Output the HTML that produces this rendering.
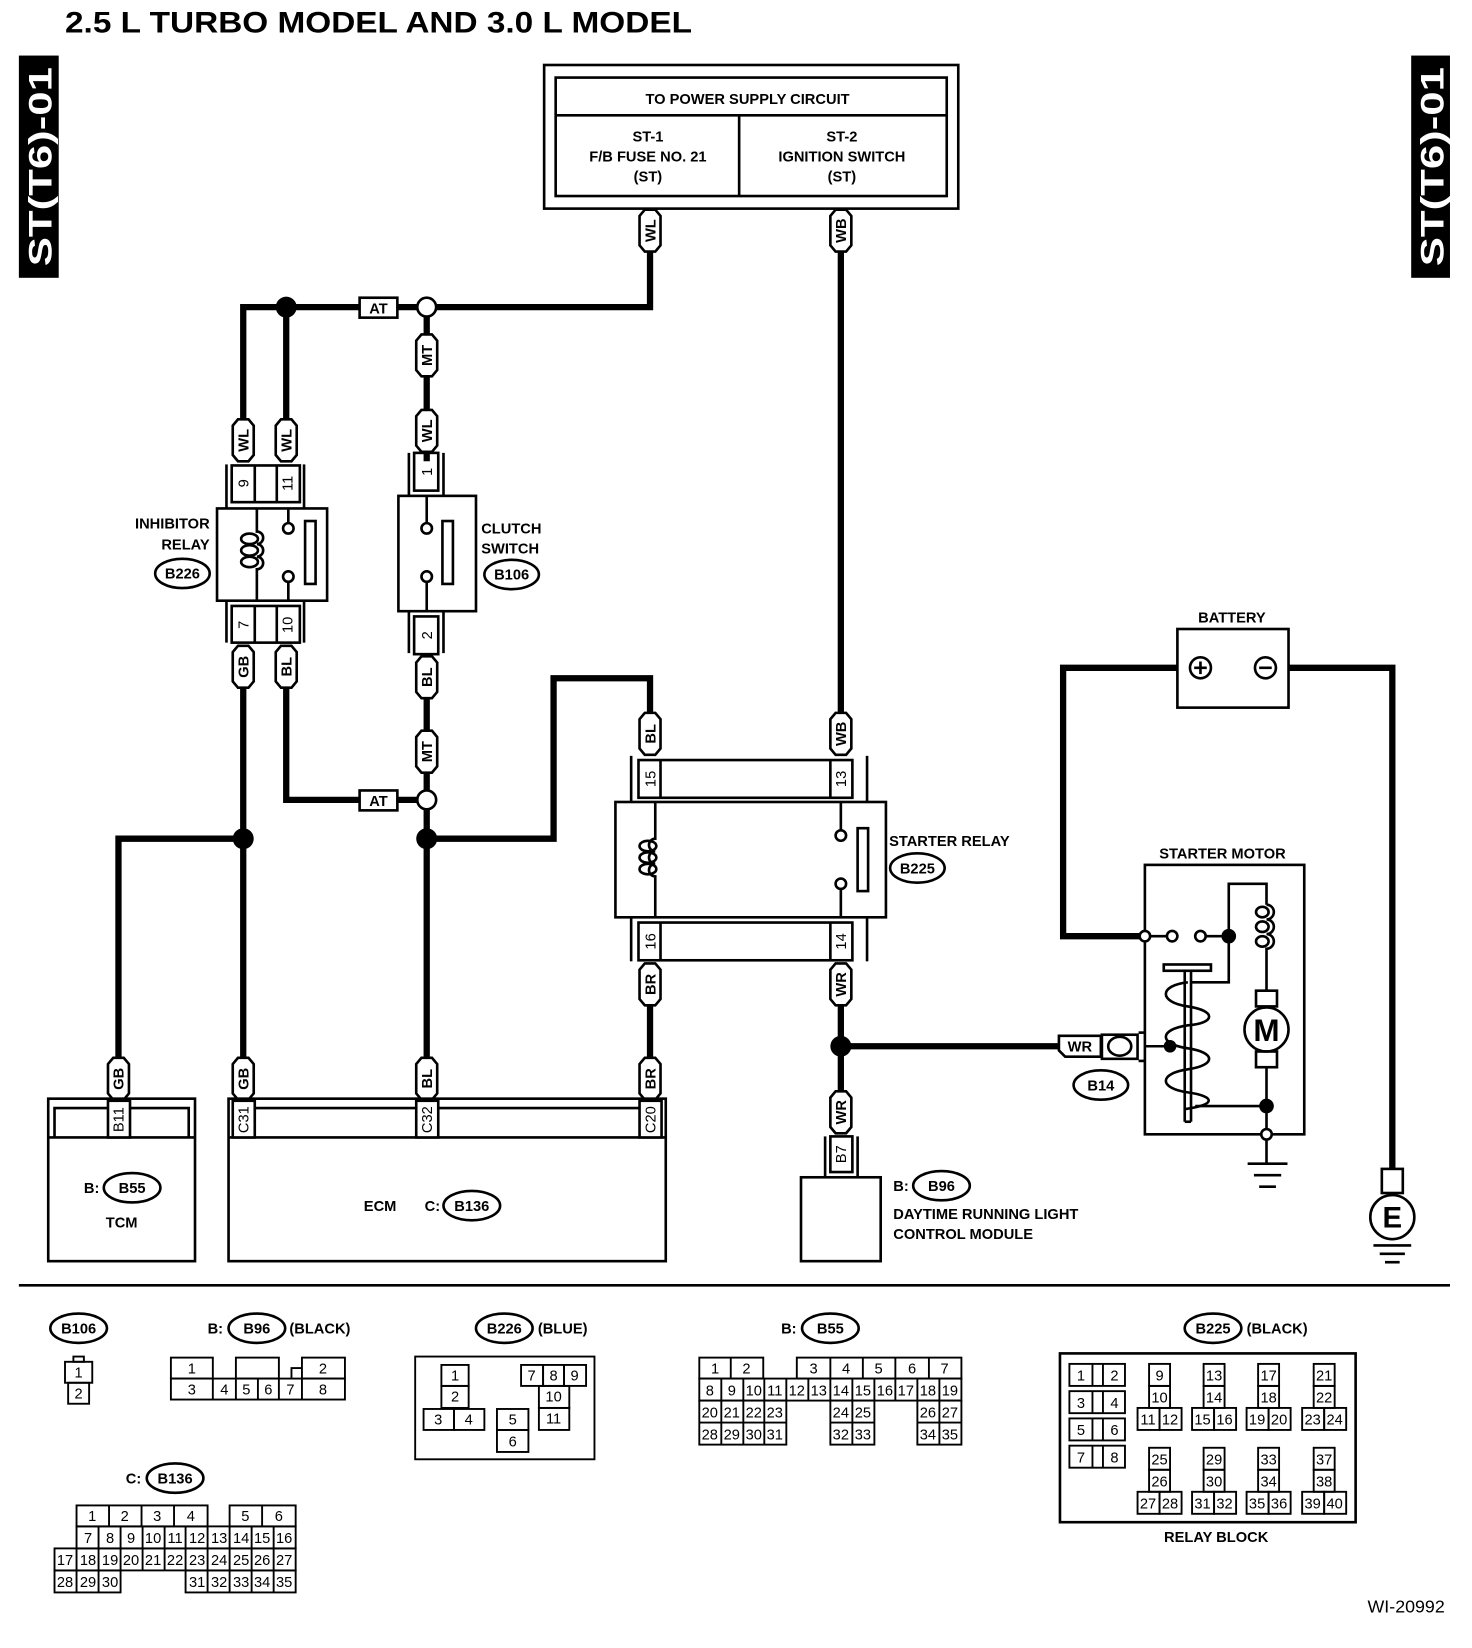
<!DOCTYPE html>
<html><head><meta charset="utf-8"><style>
html,body{margin:0;padding:0;background:#fff}
svg{display:block}
text{font-family:"Liberation Sans",sans-serif;fill:#000}
.b{font-weight:bold}
.l{font-weight:bold;font-size:14px}
.n{font-size:14px}
</style></head><body>
<svg width="1472" height="1648" viewBox="0 0 1404 1572" preserveAspectRatio="none" xmlns="http://www.w3.org/2000/svg">
<defs>
<path id="p" d="M-10,-14 L-5,-20 L5,-20 L10,-14 L10,14 L5,20 L-5,20 L-10,14Z" fill="#fff" stroke="#000" stroke-width="2.5"/>
<path id="ph" d="M-20,-10 L-14,-10 L20,-10 L20,10 L-14,10 L-20,4 L-20,-4Z" fill="#fff" stroke="#000" stroke-width="2.5"/>
</defs>

<text x="62" y="31" class="b" font-size="28" textLength="598" lengthAdjust="spacingAndGlyphs">2.5 L TURBO MODEL AND 3.0 L MODEL</text>
<rect x="18" y="53" width="38" height="212" fill="#000"/>
<text transform="translate(49,159) rotate(-90)" text-anchor="middle" class="b" font-size="31" style="fill:#fff" textLength="190" lengthAdjust="spacingAndGlyphs">ST(T6)-01</text>
<rect x="1346" y="53" width="37" height="212" fill="#000"/>
<text transform="translate(1377,159) rotate(-90)" text-anchor="middle" class="b" font-size="31" style="fill:#fff" textLength="190" lengthAdjust="spacingAndGlyphs">ST(T6)-01</text>

<g fill="none" stroke="#000" stroke-width="2.5">
<rect x="519" y="62" width="395" height="137"/>
<rect x="530" y="74" width="373" height="113"/>
<line x1="530" y1="110" x2="903" y2="110"/>
<line x1="705" y1="110" x2="705" y2="187"/>
</g>
<g class="l" text-anchor="middle">
<text x="713" y="99">TO POWER SUPPLY CIRCUIT</text>
<text x="618" y="135">ST-1</text><text x="618" y="154">F/B FUSE NO. 21</text><text x="618" y="173">(ST)</text>
<text x="803" y="135">ST-2</text><text x="803" y="154">IGNITION SWITCH</text><text x="803" y="173">(ST)</text>
</g>

<g fill="none" stroke="#000" stroke-width="6" stroke-linejoin="miter">
<polyline points="620,238 620,293 232,293 232,400"/>
<line x1="273" y1="293" x2="273" y2="400"/>
<line x1="407" y1="293" x2="407" y2="440"/>
<line x1="802" y1="238" x2="802" y2="680"/>
<line x1="232" y1="655" x2="232" y2="1010"/>
<polyline points="273,655 273,763 407,763"/>
<line x1="407" y1="665" x2="407" y2="1010"/>
<polyline points="113,1010 113,800 232,800"/>
<polyline points="407,800 528,800 528,647 620,647 620,680"/>
<line x1="620" y1="958" x2="620" y2="1010"/>
<line x1="802" y1="958" x2="802" y2="1042"/>
<line x1="802" y1="998" x2="1012" y2="998"/>
<polyline points="1123,637 1014,637 1014,893 1092,893"/>
<polyline points="1229,637 1328,637 1328,1115"/>
</g>

<circle cx="273" cy="293" r="10"/>
<circle cx="232" cy="800" r="10"/>
<circle cx="407" cy="800" r="10"/>
<circle cx="802" cy="998" r="10"/>
<circle cx="407" cy="293" r="9" fill="#fff" stroke="#000" stroke-width="2.5"/>
<circle cx="407" cy="763" r="9" fill="#fff" stroke="#000" stroke-width="2.5"/>

<g fill="#fff" stroke="#000" stroke-width="2.5">
<rect x="343" y="284" width="36" height="19"/>
<rect x="343" y="754" width="36" height="19"/>
</g>
<text x="361" y="299" text-anchor="middle" class="l">AT</text>
<text x="361" y="769" text-anchor="middle" class="l">AT</text>

<g class="l" text-anchor="middle">
<g transform="translate(620,220)"><use href="#p"/><text transform="rotate(-90)" y="5">WL</text></g>
<g transform="translate(802,220)"><use href="#p"/><text transform="rotate(-90)" y="5">WB</text></g>
<g transform="translate(232,420)"><use href="#p"/><text transform="rotate(-90)" y="5">WL</text></g>
<g transform="translate(273,420)"><use href="#p"/><text transform="rotate(-90)" y="5">WL</text></g>
<g transform="translate(407,339)"><use href="#p"/><text transform="rotate(-90)" y="5">MT</text></g>
<g transform="translate(407,411)"><use href="#p"/><text transform="rotate(-90)" y="5">WL</text></g>
<g transform="translate(232,636)"><use href="#p"/><text transform="rotate(-90)" y="5">GB</text></g>
<g transform="translate(273,636)"><use href="#p"/><text transform="rotate(-90)" y="5">BL</text></g>
<g transform="translate(407,646)"><use href="#p"/><text transform="rotate(-90)" y="5">BL</text></g>
<g transform="translate(407,717)"><use href="#p"/><text transform="rotate(-90)" y="5">MT</text></g>
<g transform="translate(620,700)"><use href="#p"/><text transform="rotate(-90)" y="5">BL</text></g>
<g transform="translate(802,700)"><use href="#p"/><text transform="rotate(-90)" y="5">WB</text></g>
<g transform="translate(620,939)"><use href="#p"/><text transform="rotate(-90)" y="5">BR</text></g>
<g transform="translate(802,939)"><use href="#p"/><text transform="rotate(-90)" y="5">WR</text></g>
<g transform="translate(113,1029)"><use href="#p"/><text transform="rotate(-90)" y="5">GB</text></g>
<g transform="translate(232,1029)"><use href="#p"/><text transform="rotate(-90)" y="5">GB</text></g>
<g transform="translate(407,1029)"><use href="#p"/><text transform="rotate(-90)" y="5">BL</text></g>
<g transform="translate(620,1029)"><use href="#p"/><text transform="rotate(-90)" y="5">BR</text></g>
<g transform="translate(802,1061)"><use href="#p"/><text transform="rotate(-90)" y="5">WR</text></g>
<g transform="translate(1030,998)"><use href="#ph"/><text y="5">WR</text></g>
</g>

<g fill="none" stroke="#000" stroke-width="2.5">
<line x1="216" y1="443" x2="216" y2="485"/><line x1="290" y1="443" x2="290" y2="485"/>
<rect x="221" y="444" width="65" height="35"/><line x1="243" y1="444" x2="243" y2="479"/><line x1="264" y1="444" x2="264" y2="479"/>
<rect x="207" y="485" width="105" height="88"/>
<line x1="216" y1="573" x2="216" y2="613"/><line x1="290" y1="573" x2="290" y2="613"/>
<rect x="221" y="578" width="65" height="35"/><line x1="243" y1="578" x2="243" y2="613"/><line x1="264" y1="578" x2="264" y2="613"/>
<path d="M245,485 V507 a6,6 0 0 1 0,12 a6,6 0 0 1 0,12 a6,6 0 0 1 0,12 V573"/>
<ellipse cx="238" cy="514" rx="8" ry="5"/><ellipse cx="238" cy="525" rx="8" ry="5"/><ellipse cx="238" cy="536" rx="8" ry="5"/>
<line x1="275" y1="485" x2="275" y2="499"/><circle cx="275" cy="504" r="5" fill="#fff"/>
<line x1="275" y1="573" x2="275" y2="555"/><circle cx="275" cy="550" r="5" fill="#fff"/>
<rect x="291" y="497" width="10" height="60"/>
<line x1="390" y1="432" x2="390" y2="473"/><line x1="423" y1="432" x2="423" y2="473"/>
<rect x="395" y="432" width="23" height="36"/>
<rect x="380" y="473" width="74" height="110"/>
<line x1="390" y1="583" x2="390" y2="623"/><line x1="423" y1="583" x2="423" y2="623"/>
<rect x="395" y="588" width="23" height="36"/>
<line x1="407" y1="473" x2="407" y2="499"/><circle cx="407" cy="504" r="5" fill="#fff"/>
<line x1="407" y1="583" x2="407" y2="555"/><circle cx="407" cy="550" r="5" fill="#fff"/>
<rect x="422" y="497" width="10" height="60"/>
<line x1="602" y1="721" x2="602" y2="765"/><line x1="827" y1="721" x2="827" y2="765"/>
<rect x="609" y="725" width="204" height="36"/><line x1="630" y1="725" x2="630" y2="761"/><line x1="792" y1="725" x2="792" y2="761"/>
<rect x="587" y="765" width="258" height="110"/>
<line x1="602" y1="875" x2="602" y2="917"/><line x1="827" y1="875" x2="827" y2="917"/>
<rect x="609" y="880" width="204" height="36"/><line x1="630" y1="880" x2="630" y2="916"/><line x1="792" y1="880" x2="792" y2="916"/>
<path d="M625,765 V800 a6,6 0 0 0 0,12 a6,6 0 0 0 0,12 a6,6 0 0 0 0,12 V875"/>
<ellipse cx="618" cy="807" rx="8" ry="5"/><ellipse cx="618" cy="818" rx="8" ry="5"/><ellipse cx="618" cy="829" rx="8" ry="5"/>
<line x1="802" y1="765" x2="802" y2="792"/><circle cx="802" cy="797" r="5" fill="#fff"/>
<line x1="802" y1="875" x2="802" y2="848"/><circle cx="802" cy="843" r="5" fill="#fff"/>
<rect x="818" y="790" width="10" height="60"/>
</g>
<g class="n" text-anchor="middle">
<text transform="translate(237,461) rotate(-90)" text-anchor="middle">9</text>
<text transform="translate(279,461) rotate(-90)" text-anchor="middle">11</text>
<text transform="translate(237,596) rotate(-90)" text-anchor="middle">7</text>
<text transform="translate(279,596) rotate(-90)" text-anchor="middle">10</text>
<text transform="translate(412,450) rotate(-90)" text-anchor="middle">1</text>
<text transform="translate(412,606) rotate(-90)" text-anchor="middle">2</text>
<text transform="translate(625,743) rotate(-90)" text-anchor="middle">15</text>
<text transform="translate(807,743) rotate(-90)" text-anchor="middle">13</text>
<text transform="translate(625,898) rotate(-90)" text-anchor="middle">16</text>
<text transform="translate(807,898) rotate(-90)" text-anchor="middle">14</text>
</g>
<g class="l">
<text x="200" y="504" text-anchor="end">INHIBITOR</text><text x="200" y="524" text-anchor="end">RELAY</text>
<text x="459" y="509">CLUTCH</text><text x="459" y="528">SWITCH</text>
<text x="848" y="807">STARTER RELAY</text>
</g>

<g fill="none" stroke="#000" stroke-width="2.5">
<ellipse cx="174" cy="547" rx="26" ry="14"/>
<ellipse cx="488" cy="548" rx="26" ry="14"/>
<ellipse cx="875" cy="828" rx="26" ry="14"/>
<ellipse cx="1050" cy="1035" rx="26" ry="14"/>
<ellipse cx="126" cy="1133" rx="27" ry="14"/>
<ellipse cx="450" cy="1150" rx="27" ry="14"/>
<ellipse cx="898" cy="1131" rx="27" ry="14"/>
<ellipse cx="75" cy="1267" rx="27" ry="14"/>
<ellipse cx="245" cy="1267" rx="27" ry="14"/>
<ellipse cx="481" cy="1267" rx="27" ry="14"/>
<ellipse cx="792" cy="1267" rx="27" ry="14"/>
<ellipse cx="167" cy="1410" rx="27" ry="14"/>
<ellipse cx="1157" cy="1267" rx="27" ry="14"/>
</g>
<g class="l" text-anchor="middle">
<text x="174" y="552">B226</text><text x="488" y="553">B106</text><text x="875" y="833">B225</text>
<text x="1050" y="1040">B14</text><text x="126" y="1138">B55</text><text x="450" y="1155">B136</text>
<text x="898" y="1136">B96</text><text x="75" y="1272">B106</text><text x="245" y="1272">B96</text>
<text x="481" y="1272">B226</text><text x="792" y="1272">B55</text><text x="167" y="1415">B136</text>
<text x="1157" y="1272">B225</text>
</g>

<g fill="none" stroke="#000" stroke-width="2.5">
<rect x="46" y="1048" width="140" height="155"/>
<line x1="46" y1="1085" x2="186" y2="1085"/>
<polyline points="52,1085 52,1057 180,1057 180,1085"/>
<rect x="103" y="1050" width="21" height="35" fill="#fff"/>
<rect x="218" y="1048" width="417" height="155"/>
<line x1="218" y1="1085" x2="635" y2="1085"/>
<polyline points="228,1085 228,1057 625,1057 625,1085"/>
<rect x="222" y="1050" width="21" height="35" fill="#fff"/>
<rect x="397" y="1050" width="21" height="35" fill="#fff"/>
<rect x="610" y="1050" width="21" height="35" fill="#fff"/>
<rect x="792" y="1084" width="21" height="34"/>
<line x1="787" y1="1084" x2="787" y2="1123"/><line x1="818" y1="1084" x2="818" y2="1123"/>
<rect x="764" y="1123" width="76" height="80"/>
</g>
<g class="n" text-anchor="middle">
<text transform="translate(118,1068) rotate(-90)">B11</text>
<text transform="translate(237,1068) rotate(-90)">C31</text>
<text transform="translate(412,1068) rotate(-90)">C32</text>
<text transform="translate(625,1068) rotate(-90)">C20</text>
<text transform="translate(807,1101) rotate(-90)">B7</text>
</g>
<g class="l">
<text x="80" y="1138">B:</text>
<text x="116" y="1171" text-anchor="middle">TCM</text>
<text x="347" y="1155">ECM</text><text x="405" y="1155">C:</text>
<text x="852" y="1136">B:</text>
<text x="852" y="1163">DAYTIME RUNNING LIGHT</text>
<text x="852" y="1182">CONTROL MODULE</text>
</g>

<g fill="none" stroke="#000" stroke-width="2.5">
<rect x="1123" y="600" width="106" height="75"/>
<circle cx="1145" cy="637" r="10"/><line x1="1139" y1="637" x2="1151" y2="637"/><line x1="1145" y1="631" x2="1145" y2="643"/>
<circle cx="1207" cy="637" r="10"/><line x1="1201" y1="637" x2="1213" y2="637"/>
</g>
<text x="1175" y="594" text-anchor="middle" class="l">BATTERY</text>
<g fill="none" stroke="#000" stroke-width="2.5">
<rect x="1318" y="1115" width="20" height="23" fill="#fff"/>
<circle cx="1328" cy="1161" r="21" fill="#fff"/>
<line x1="1310" y1="1188" x2="1346" y2="1188"/>
<line x1="1316" y1="1196" x2="1340" y2="1196"/>
<line x1="1321" y1="1204" x2="1335" y2="1204"/>
</g>
<text x="1328" y="1171" text-anchor="middle" class="b" font-size="28">E</text>

<text x="1166" y="819" text-anchor="middle" class="l">STARTER MOTOR</text>
<g fill="none" stroke="#000" stroke-width="2.5">
<rect x="1092" y="825" width="152" height="257"/>
<line x1="1092" y1="893" x2="1118" y2="893"/>
<line x1="1145" y1="893" x2="1172" y2="893"/>
<polyline points="1172,893 1172,843 1208,843 1208,863"/>
<path d="M1208,863 a6,6 0 0 1 0,14 a6,6 0 0 1 0,14 a6,6 0 0 1 0,14 V945"/>
<ellipse cx="1204" cy="870" rx="6" ry="5"/><ellipse cx="1204" cy="884" rx="6" ry="5"/><ellipse cx="1204" cy="898" rx="6" ry="5"/>
<polyline points="1172,893 1172,937 1135,937"/>
<rect x="1198" y="945" width="20" height="15"/>
<circle cx="1208" cy="982" r="21" fill="#fff"/>
<rect x="1198" y="1003" width="20" height="15"/>
<line x1="1208" y1="1018" x2="1208" y2="1110"/>
<line x1="1140" y1="1055" x2="1208" y2="1055"/>
<rect x="1110" y="920" width="45" height="6"/>
<line x1="1130" y1="926" x2="1130" y2="1070"/><line x1="1136" y1="926" x2="1136" y2="1070"/><line x1="1130" y1="1070" x2="1136" y2="1070"/>
<path d="M1133,937 C1105,940 1105,956 1133,960 C1160,964 1160,976 1133,978 C1105,982 1105,996 1133,1000 C1160,1004 1160,1016 1133,1020 C1105,1024 1105,1038 1133,1042 C1160,1046 1160,1054 1130,1058"/>
<line x1="1092" y1="998" x2="1116" y2="998"/>
<line x1="1086" y1="985" x2="1092" y2="985"/><line x1="1086" y1="1012" x2="1092" y2="1012"/>
<rect x="1051" y="987" width="34" height="23"/>
<ellipse cx="1068" cy="998" rx="11" ry="9"/>
<line x1="1190" y1="1110" x2="1228" y2="1110"/>
<line x1="1196" y1="1121" x2="1222" y2="1121"/>
<line x1="1201" y1="1132" x2="1217" y2="1132"/>
</g>
<circle cx="1118" cy="893" r="5" fill="#fff" stroke="#000" stroke-width="2.5"/>
<circle cx="1092" cy="893" r="5" fill="#fff" stroke="#000" stroke-width="2.5"/>
<circle cx="1145" cy="893" r="5" fill="#fff" stroke="#000" stroke-width="2.5"/>
<circle cx="1172" cy="893" r="7"/>
<circle cx="1116" cy="998" r="6"/>
<circle cx="1208" cy="1055" r="7"/>
<circle cx="1208" cy="1082" r="5" fill="#fff" stroke="#000" stroke-width="2.5"/>
<text x="1208" y="993" text-anchor="middle" class="b" font-size="30">M</text>

<line x1="18" y1="1226" x2="1383" y2="1226" stroke="#000" stroke-width="2.5"/>

<g fill="none" stroke="#000" stroke-width="1.8">
<rect x="62" y="1299" width="26" height="20"/><rect x="70" y="1294" width="10" height="5"/>
<rect x="65" y="1319" width="20" height="20"/>
<rect x="163" y="1295" width="40" height="20"/><rect x="225" y="1295" width="41" height="20"/><rect x="288" y="1295" width="41" height="20"/><polyline points="278,1315 278,1305 288,1305"/>
<rect x="163" y="1315" width="166" height="20"/>
<line x1="203" y1="1315" x2="203" y2="1335"/><line x1="225" y1="1315" x2="225" y2="1335"/><line x1="246" y1="1315" x2="246" y2="1335"/><line x1="266" y1="1315" x2="266" y2="1335"/><line x1="288" y1="1315" x2="288" y2="1335"/>
<rect x="396" y="1294" width="171" height="98"/>
<rect x="421" y="1302" width="26" height="20"/><rect x="421" y="1322" width="26" height="21"/>
<rect x="404" y="1344" width="29" height="20"/><rect x="433" y="1344" width="29" height="20"/>
<rect x="474" y="1344" width="30" height="20"/><rect x="474" y="1364" width="30" height="21"/>
<rect x="497" y="1302" width="21" height="20"/><rect x="518" y="1302" width="20" height="20"/><rect x="538" y="1302" width="21" height="20"/>
<rect x="514" y="1322" width="29" height="21"/><rect x="514" y="1343" width="29" height="21"/>
</g>
<g class="n" text-anchor="middle" font-size="13">
<text x="75" y="1314">1</text><text x="75" y="1334">2</text>
<text x="183" y="1310">1</text><text x="308" y="1310">2</text>
<text x="183" y="1330">3</text><text x="214" y="1330">4</text><text x="235" y="1330">5</text><text x="256" y="1330">6</text><text x="277" y="1330">7</text><text x="308" y="1330">8</text>
<text x="434" y="1317">1</text><text x="434" y="1337">2</text><text x="418" y="1359">3</text><text x="447" y="1359">4</text>
<text x="489" y="1359">5</text><text x="489" y="1380">6</text>
<text x="507" y="1317">7</text><text x="528" y="1317">8</text><text x="548" y="1317">9</text>
<text x="528" y="1337">10</text><text x="528" y="1358">11</text>
</g>
<g class="l"><text x="198" y="1272">B:</text><text x="276" y="1272">(BLACK)</text><text x="513" y="1272">(BLUE)</text><text x="745" y="1272">B:</text><text x="120" y="1415">C:</text><text x="1189" y="1272">(BLACK)</text></g>

<g fill="none" stroke="#000" stroke-width="1.8">
<rect x="667" y="1295" width="61" height="20"/><line x1="697" y1="1295" x2="697" y2="1315"/>
<rect x="760" y="1295" width="157" height="20"/>
<line x1="792" y1="1295" x2="792" y2="1315"/><line x1="823" y1="1295" x2="823" y2="1315"/><line x1="854" y1="1295" x2="854" y2="1315"/><line x1="886" y1="1295" x2="886" y2="1315"/>
<rect x="667" y="1315" width="250" height="21"/>
<path d="M688,1315v21M709,1315v21M729,1315v21M750,1315v21M771,1315v21M792,1315v21M813,1315v21M834,1315v21M854,1315v21M875,1315v21M896,1315v21"/>
<rect x="667" y="1336" width="83" height="42"/><line x1="667" y1="1357" x2="750" y2="1357"/>
<path d="M688,1336v42M709,1336v42M729,1336v42"/>
<rect x="792" y="1336" width="42" height="42"/><line x1="792" y1="1357" x2="834" y2="1357"/><line x1="813" y1="1336" x2="813" y2="1378"/>
<rect x="875" y="1336" width="42" height="42"/><line x1="875" y1="1357" x2="917" y2="1357"/><line x1="896" y1="1336" x2="896" y2="1378"/>
</g>
<g class="n" text-anchor="middle" font-size="13">
<text x="682" y="1310">1</text><text x="712" y="1310">2</text><text x="776" y="1310">3</text><text x="807" y="1310">4</text><text x="838" y="1310">5</text><text x="870" y="1310">6</text><text x="901" y="1310">7</text>
<text x="677" y="1331">8</text><text x="698" y="1331">9</text><text x="719" y="1331">10</text><text x="739" y="1331">11</text><text x="760" y="1331">12</text><text x="781" y="1331">13</text><text x="802" y="1331">14</text><text x="823" y="1331">15</text><text x="844" y="1331">16</text><text x="864" y="1331">17</text><text x="885" y="1331">18</text><text x="906" y="1331">19</text>
<text x="677" y="1352">20</text><text x="698" y="1352">21</text><text x="719" y="1352">22</text><text x="739" y="1352">23</text><text x="802" y="1352">24</text><text x="823" y="1352">25</text><text x="885" y="1352">26</text><text x="906" y="1352">27</text>
<text x="677" y="1373">28</text><text x="698" y="1373">29</text><text x="719" y="1373">30</text><text x="739" y="1373">31</text><text x="802" y="1373">32</text><text x="823" y="1373">33</text><text x="885" y="1373">34</text><text x="906" y="1373">35</text>
</g>

<g fill="none" stroke="#000" stroke-width="1.8">
<rect x="73" y="1436" width="125" height="20"/><path d="M104,1436v20M135,1436v20M166,1436v20"/>
<rect x="219" y="1436" width="63" height="20"/><line x1="250" y1="1436" x2="250" y2="1456"/>
<rect x="73" y="1456" width="209" height="21"/>
<path d="M94,1456v21M115,1456v21M136,1456v21M157,1456v21M177,1456v21M198,1456v21M219,1456v21M240,1456v21M261,1456v21"/>
<rect x="52" y="1477" width="230" height="21"/>
<path d="M73,1477v21M94,1477v21M115,1477v21M136,1477v21M157,1477v21M177,1477v21M198,1477v21M219,1477v21M240,1477v21M261,1477v21"/>
<rect x="52" y="1498" width="63" height="21"/><path d="M73,1498v21M94,1498v21"/>
<rect x="177" y="1498" width="105" height="21"/><path d="M198,1498v21M219,1498v21M240,1498v21M261,1498v21"/>
</g>
<g class="n" text-anchor="middle" font-size="13">
<text x="88" y="1451">1</text><text x="119" y="1451">2</text><text x="150" y="1451">3</text><text x="182" y="1451">4</text><text x="234" y="1451">5</text><text x="266" y="1451">6</text>
<text x="84" y="1472">7</text><text x="105" y="1472">8</text><text x="125" y="1472">9</text><text x="146" y="1472">10</text><text x="167" y="1472">11</text><text x="188" y="1472">12</text><text x="209" y="1472">13</text><text x="230" y="1472">14</text><text x="250" y="1472">15</text><text x="271" y="1472">16</text>
<text x="62" y="1493">17</text><text x="84" y="1493">18</text><text x="105" y="1493">19</text><text x="125" y="1493">20</text><text x="146" y="1493">21</text><text x="167" y="1493">22</text><text x="188" y="1493">23</text><text x="209" y="1493">24</text><text x="230" y="1493">25</text><text x="250" y="1493">26</text><text x="271" y="1493">27</text>
<text x="62" y="1514">28</text><text x="84" y="1514">29</text><text x="105" y="1514">30</text><text x="188" y="1514">31</text><text x="209" y="1514">32</text><text x="230" y="1514">33</text><text x="250" y="1514">34</text><text x="271" y="1514">35</text>
</g>

<g fill="none" stroke="#000" stroke-width="1.8">
<rect x="1011" y="1291" width="282" height="161" stroke-width="2.5"/>
<rect x="1020" y="1301" width="53" height="21"/><path d="M1042,1301v21M1052,1301v21"/>
<rect x="1020" y="1327" width="53" height="21"/><path d="M1042,1327v21M1052,1327v21"/>
<rect x="1020" y="1353" width="53" height="21"/><path d="M1042,1353v21M1052,1353v21"/>
<rect x="1020" y="1379" width="53" height="21"/><path d="M1042,1379v21M1052,1379v21"/>
<g id="grp"><rect x="1096" y="1301" width="20" height="21"/><rect x="1096" y="1322" width="20" height="21"/><rect x="1085" y="1343" width="21" height="21"/><rect x="1106" y="1343" width="21" height="21"/></g>
<use href="#grp" x="52"/><use href="#grp" x="104"/><use href="#grp" x="157"/>
<use href="#grp" y="80"/><use href="#grp" x="52" y="80"/><use href="#grp" x="104" y="80"/><use href="#grp" x="157" y="80"/>
</g>
<g class="n" text-anchor="middle" font-size="13">
<text x="1031" y="1317">1</text><text x="1063" y="1317">2</text><text x="1031" y="1343">3</text><text x="1063" y="1343">4</text>
<text x="1031" y="1369">5</text><text x="1063" y="1369">6</text><text x="1031" y="1395">7</text><text x="1063" y="1395">8</text>
<text x="1106" y="1317">9</text><text x="1106" y="1338">10</text><text x="1095" y="1359">11</text><text x="1116" y="1359">12</text>
<text x="1158" y="1317">13</text><text x="1158" y="1338">14</text><text x="1147" y="1359">15</text><text x="1168" y="1359">16</text>
<text x="1210" y="1317">17</text><text x="1210" y="1338">18</text><text x="1199" y="1359">19</text><text x="1220" y="1359">20</text>
<text x="1263" y="1317">21</text><text x="1263" y="1338">22</text><text x="1252" y="1359">23</text><text x="1273" y="1359">24</text>
<text x="1106" y="1397">25</text><text x="1106" y="1418">26</text><text x="1095" y="1439">27</text><text x="1116" y="1439">28</text>
<text x="1158" y="1397">29</text><text x="1158" y="1418">30</text><text x="1147" y="1439">31</text><text x="1168" y="1439">32</text>
<text x="1210" y="1397">33</text><text x="1210" y="1418">34</text><text x="1199" y="1439">35</text><text x="1220" y="1439">36</text>
<text x="1263" y="1397">37</text><text x="1263" y="1418">38</text><text x="1252" y="1439">39</text><text x="1273" y="1439">40</text>
</g>
<text x="1160" y="1471" text-anchor="middle" class="l">RELAY BLOCK</text>
<text x="1378" y="1538" text-anchor="end" font-size="17">WI-20992</text>
</svg>
</body></html>
